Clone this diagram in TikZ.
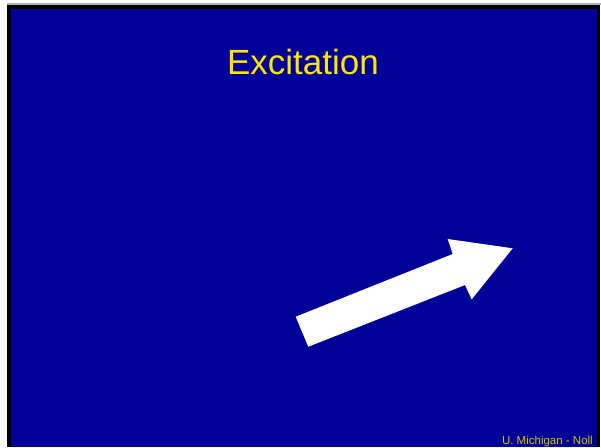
\documentclass[tikz,border=0pt]{standalone}
\usepackage{fontspec}
\setmainfont{Liberation Sans}
\usetikzlibrary{positioning}
\definecolor{slideblue}{HTML}{000099}
\definecolor{titleyellow}{HTML}{FFE600}
\definecolor{frameblack}{HTML}{000000}

\begin{document}
\begin{tikzpicture}[x=1pt, y=-1pt,
    titletext/.style={font=\fontsize{35}{40}\selectfont, text=titleyellow, inner sep=0pt},
    foottext/.style={font=\fontsize{11.5}{13}\selectfont, text=titleyellow!85!black, inner sep=0pt}]
  % Hoja y marco
  \fill[white] (0,0) rectangle (601,447);
  \useasboundingbox (0,0) rectangle (601,447);
  \fill[gray!60] (7,3) rectangle (601,5);
  \fill[frameblack] (7,5) rectangle (600,447);
  \fill[slideblue] (11,9) rectangle (597,447);
  % Titulo
  \node[titletext, anchor=base] (titulo) at (303,74) {Excitation};
  % Flecha blanca
  \fill[white] (295.7,316.7) -- (452.7,254) -- (447.7,239) -- (512.7,248.3)
    -- (471.7,299.3) -- (465,285) -- (308.3,346.7) -- cycle;
  % Pie
  \node[foottext, anchor=base east] (pie) at (593,444) {U. Michigan - Noll};
\end{tikzpicture}
\end{document}
